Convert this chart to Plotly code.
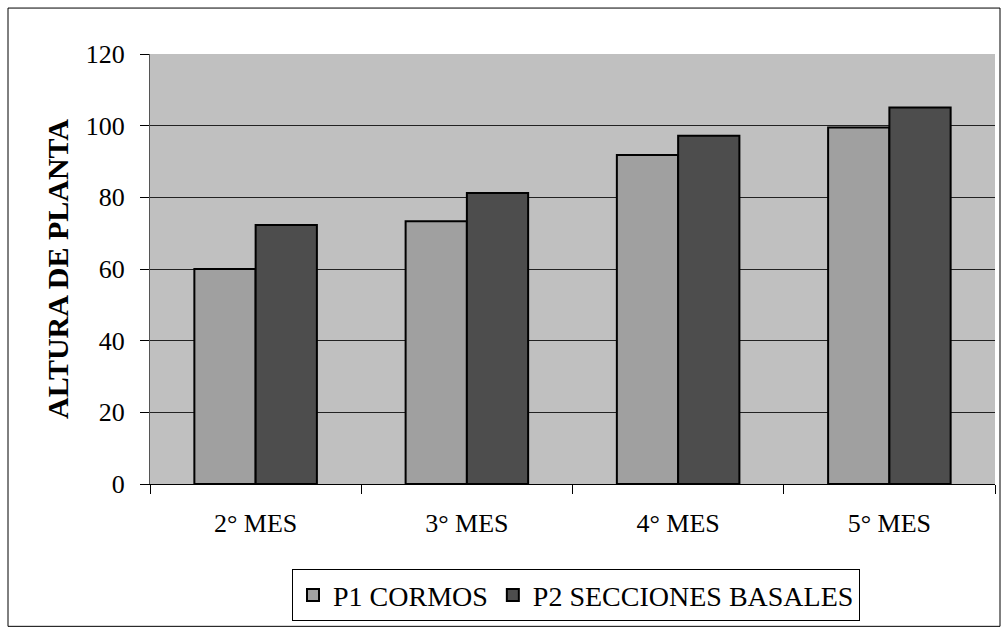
import plotly.graph_objects as go

# Plant height per month for both propagation methods
meses = ["2° MES", "3° MES", "4° MES", "5° MES"]
p1_cormos = [60.0, 73.3, 91.8, 99.5]
p2_secciones = [72.3, 81.2, 97.2, 105.1]
y_ticks = [0, 20, 40, 60, 80, 100, 120]

FONT = "Liberation Serif"

fig = go.Figure()
fig.add_trace(go.Bar(
    x=meses, y=p1_cormos, name="P1 CORMOS",
    marker=dict(color="#A0A0A0", line=dict(color="black", width=2)),
))
fig.add_trace(go.Bar(
    x=meses, y=p2_secciones, name="P2 SECCIONES BASALES",
    marker=dict(color="#4D4D4D", line=dict(color="black", width=2)),
))

W, H = 1003, 629
L, R, T, B = 150, 8, 54, 144.5
pw, ph = W - L - R, H - T - B


def px_x(px):
    return (px - L) / pw


def px_y(py):
    return (H - B - py) / ph


fig.update_layout(
    width=W, height=H,
    margin=dict(l=L, r=R, t=T, b=B),
    paper_bgcolor="white",
    plot_bgcolor="#C0C0C0",
    barmode="group",
    bargap=0.42,
    bargroupgap=0,
    font=dict(family=FONT, size=26, color="black"),
    showlegend=True,
    legend=dict(
        orientation="h",
        x=px_x(576), y=px_y(596),
        xanchor="center", yanchor="middle",
        bordercolor="black", borderwidth=1,
        bgcolor="white",
        font=dict(family=FONT, size=28),
        itemsizing="constant",
        itemwidth=30,
        tracegroupgap=0,
    ),
    xaxis=dict(
        showline=True, linecolor="black", linewidth=1,
        ticks="outside", ticklen=9, tickcolor="black",
        tickson="boundaries",
        ticklabelstandoff=16,
        showgrid=False,
        tickfont=dict(family=FONT, size=26),
    ),
    yaxis=dict(
        range=[0, 120],
        tickvals=y_ticks,
        showline=True, linecolor="#555555", linewidth=1,
        ticks="outside", ticklen=9, tickcolor="black",
        ticklabelstandoff=10,
        showgrid=True, gridcolor="#222222", gridwidth=1,
        zeroline=False,
        tickfont=dict(family=FONT, size=26),
        title=dict(text="<b>ALTURA DE PLANTA</b>",
                   font=dict(family=FONT, size=30), standoff=8),
    ),
    shapes=[
        dict(type="rect", xref="paper", yref="paper",
             x0=px_x(8), x1=px_x(1000), y0=px_y(627), y1=px_y(8),
             line=dict(color="black", width=1), fillcolor="rgba(0,0,0,0)",
             layer="below"),
    ],
)

fig.write_html("out.html")
